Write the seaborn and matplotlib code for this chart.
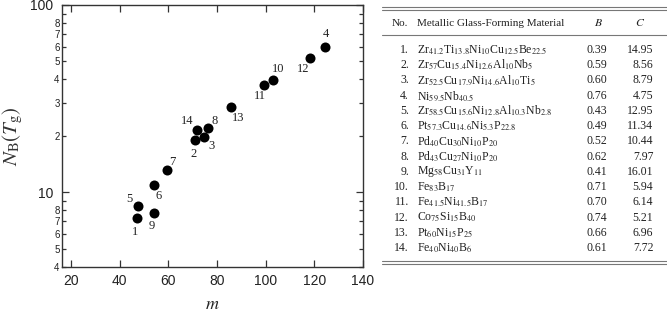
import math
import matplotlib
matplotlib.use('Agg')
import matplotlib.pyplot as plt
import matplotlib.ticker as mticker
from matplotlib.lines import Line2D
import seaborn as sns
import pandas as pd

# Data
labels = ['1', '2', '3', '4', '5', '6', '7', '8', '9', '10', '11', '12', '13', '14']
m_values = [47.0, 71.0, 74.8, 124.4, 47.4, 54.1, 59.6, 76.2, 54.2, 102.9, 99.4, 118.2, 85.6, 71.7]
nb_values = [7.24, 19.1, 19.6, 60.0, 8.42, 10.99, 13.1, 22.0, 7.79, 39.9, 37.2, 52.0, 28.4, 21.4]

# Table contents
materials = [
    r'Zr$_{41.2}$Ti$_{13.8}$Ni$_{10}$Cu$_{12.5}$Be$_{22.5}$',
    r'Zr$_{57}$Cu$_{15.4}$Ni$_{12.6}$Al$_{10}$Nb$_{5}$',
    r'Zr$_{52.5}$Cu$_{17.9}$Ni$_{14.6}$Al$_{10}$Ti$_{5}$',
    r'Ni$_{59.5}$Nb$_{40.5}$',
    r'Zr$_{58.5}$Cu$_{15.6}$Ni$_{12.8}$Al$_{10.3}$Nb$_{2.8}$',
    r'Pt$_{57.3}$Cu$_{14.6}$Ni$_{5.3}$P$_{22.8}$',
    r'Pd$_{40}$Cu$_{30}$Ni$_{10}$P$_{20}$',
    r'Pd$_{43}$Cu$_{27}$Ni$_{10}$P$_{20}$',
    r'Mg$_{58}$Cu$_{31}$Y$_{11}$',
    r'Fe$_{83}$B$_{17}$',
    r'Fe$_{41.5}$Ni$_{41.5}$B$_{17}$',
    r'Co$_{75}$Si$_{15}$B$_{40}$',
    r'Pt$_{60}$Ni$_{15}$P$_{25}$',
    r'Fe$_{40}$Ni$_{40}$B$_{6}$',
]
b_values = ['0.39', '0.59', '0.60', '0.76', '0.43', '0.49', '0.52', '0.62', '0.41', '0.71', '0.70', '0.74', '0.66', '0.61']
c_values = ['14.95', '8.56', '8.79', '4.75', '12.95', '11.34', '10.44', '7.97', '16.01', '5.94', '6.14', '5.21', '6.96', '7.72']

# label offsets (pixels) for point numbers
label_offsets = {
    '1': (-2, -14), '2': (-2, -14), '3': (7, -9), '4': (1, 13), '5': (-8, 7),
    '6': (5, -11), '7': (5, 8), '8': (7, 7), '9': (-2, -13), '10': (5, 11),
    '11': (-4, -11), '12': (-7, -11), '13': (8, -11), '14': (-10, 9),
}

df = pd.DataFrame({'m': m_values, 'NB': nb_values, 'label': labels})

sns.set_style('ticks')
plt.rcParams['font.family'] = ['Liberation Sans', 'DejaVu Sans']
plt.rcParams['mathtext.fontset'] = 'stix'

W, H = 667, 314
fig = plt.figure(figsize=(W / 100, H / 100), dpi=100)
ax = fig.add_axes([61.7 / W, 1 - 266.7 / H, (363 - 61.7) / W, (266.7 - 5) / H])

sns.scatterplot(data=df, x='m', y='NB', color='black', s=52, linewidth=0, ax=ax, legend=False)
ax.set_yscale('log')
ax.set_xlim(16.2, 140)
ax.set_ylim(4, 100)

for lab, x, y in zip(labels, m_values, nb_values):
    dx, dy = label_offsets[lab]
    ax.annotate(lab, (x, y), xytext=(dx, dy), textcoords='offset pixels',
                ha='center', va='center', fontsize=9, family='Liberation Serif', color='#222222')

# ticks
ax.set_xticks([20, 40, 60, 80, 100, 120, 140])
ax.yaxis.set_major_locator(mticker.FixedLocator([10, 100]))
ax.yaxis.set_major_formatter(mticker.FixedFormatter(['10', '100']))
ax.yaxis.set_minor_locator(mticker.LogLocator(base=10, subs=[2, 3, 4, 5, 6, 7, 8, 9]))


def minor_fmt(v, pos):
    d = int(round(v / 10 ** math.floor(math.log10(v))))
    return '' if d == 9 else str(d)


ax.yaxis.set_minor_formatter(mticker.FuncFormatter(minor_fmt))
ax.tick_params(axis='both', which='major', direction='in', top=True, right=True,
               length=5, width=0.9, color='#333333', labelsize=10, labelcolor='#222222')
ax.tick_params(axis='x', which='major', pad=5)
ax.tick_params(axis='y', which='major', pad=6)
ax.tick_params(axis='y', which='minor', direction='in', right=True, length=3, width=0.9,
               color='#333333', labelsize=7, pad=1.5, labelcolor='#222222')
for s in ax.spines.values():
    s.set_color('#333333')
    s.set_linewidth(1.0)

ax.set_xlabel(r'$m$', fontsize=13, labelpad=6, color='#222222')
ax.set_ylabel(r'$N_{\mathrm{B}}(T_{\mathrm{g}})$', fontsize=15, labelpad=4, color='#333333')


# table
def fx(x):
    return x / W


def fy(y):
    return 1 - y / H


serif = ['Liberation Serif', 'DejaVu Serif']
tcol = '#222222'
lcol = '#777777'
for yy in [7.3, 10.3, 35, 260.7, 263.5]:
    fig.add_artist(Line2D([fx(381.7), fx(667)], [fy(yy), fy(yy)], color=lcol, lw=0.8))

fig.text(fx(391.7), fy(23), 'No.', ha='left', va='center', fontsize=8, family=serif, color=tcol)
fig.text(fx(417), fy(23), 'Metallic Glass-Forming Material', ha='left', va='center',
         fontsize=8, family=serif, color=tcol)
fig.text(fx(599), fy(23), r'$B$', ha='center', va='center', fontsize=8.5, color=tcol)
fig.text(fx(640), fy(23), r'$C$', ha='center', va='center', fontsize=8.5, color=tcol)

row_y0, row_dy = 50, 15.23
for i, (mat, b, c) in enumerate(zip(materials, b_values, c_values)):
    yy = fy(row_y0 + i * row_dy)
    fig.text(fx(409), yy, f'{i + 1}.', ha='right', va='center', fontsize=8.5, family=serif, color=tcol)
    fig.text(fx(416.7), yy, mat, ha='left', va='center', fontsize=8.5, family=serif, color=tcol)
    fig.text(fx(596.7), yy, b, ha='center', va='center', fontsize=8.5, family=serif, color=tcol)
    fig.text(fx(653.3), yy, c, ha='right', va='center', fontsize=8.5, family=serif, color=tcol)

fig.savefig('out.png', dpi=100)
